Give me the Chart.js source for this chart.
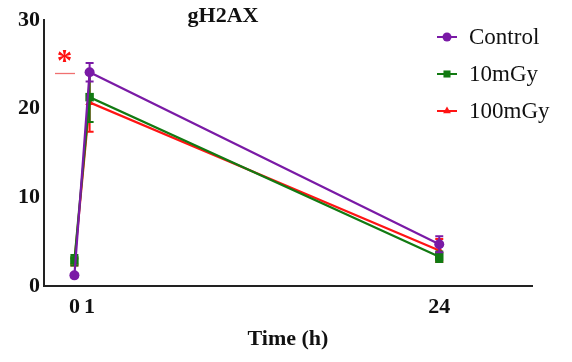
<!DOCTYPE html>
<html>
<head>
<meta charset="utf-8">
<script src="https://cdn.jsdelivr.net/npm/chart.js"></script>
<style>
  html, body { margin: 0; padding: 0; background: #ffffff; }
  #wrap { width: 572px; height: 362px; }
</style>
</head>
<body>
<div id="wrap"><canvas id="c" width="572" height="362"></canvas></div>
<script>
// gH2AX foci over time after irradiation (mean ± error)
const hours = [0, 1, 24];
const xTickValues = [0, 1, 24];
const yTickValues = [0, 10, 20, 30];

const seriesNames = ['Control', '10mGy', '100mGy'];
const controlMean = [1.2, 24.1, 4.7];
const controlErr  = [0.2, 1.05, 0.9];
const mGy10Mean   = [2.9, 21.3, 3.3];
const mGy10Err    = [0.6, 2.8, 0.6];
const mGy100Mean  = [2.7, 20.7, 4.0];
const mGy100Err   = [0.4, 3.3, 1.3];

const seriesColors = ['#7a1aa6', '#127a12', '#ff1414'];
const pointStyles  = ['circle', 'rect', 'triangle'];
const pointRadii   = [5, 6, 5];

const SERIF = '"Liberation Serif", "Times New Roman", serif';

function toPoints(means) {
  return hours.map((h, i) => ({ x: h, y: means[i] }));
}

const means = [controlMean, mGy10Mean, mGy100Mean];
const errs = [controlErr, mGy10Err, mGy100Err];

const datasets = seriesNames.map((name, k) => ({
  label: name,
  data: toPoints(means[k]),
  errors: errs[k],
  borderColor: seriesColors[k],
  backgroundColor: seriesColors[k],
  pointBackgroundColor: seriesColors[k],
  pointBorderColor: seriesColors[k],
  pointStyle: pointStyles[k],
  pointRadius: pointRadii[k],
  pointBorderWidth: 0,
  borderWidth: 2.2,
  tension: 0,
  fill: false
}));

// Vertical error bars with caps, drawn right after each dataset so layering is kept
const errorBars = {
  id: 'errorBars',
  afterDatasetDraw(chart, args) {
    const ds = chart.data.datasets[args.index];
    const meta = args.meta;
    const ys = chart.scales.y;
    const ctx = chart.ctx;
    ctx.save();
    ctx.strokeStyle = ds.borderColor;
    ctx.lineWidth = 2;
    meta.data.forEach((pt, i) => {
      const v = ds.data[i].y;
      const e = ds.errors[i];
      const yTop = ys.getPixelForValue(v + e);
      const yBot = ys.getPixelForValue(v - e);
      const x = pt.x;
      ctx.beginPath();
      ctx.moveTo(x, yTop); ctx.lineTo(x, yBot);
      ctx.moveTo(x - 4, yTop); ctx.lineTo(x + 4, yTop);
      ctx.moveTo(x - 4, yBot); ctx.lineTo(x + 4, yBot);
      ctx.stroke();
    });
    ctx.restore();
  }
};

// Title, significance mark and in-plot legend
const annotations = {
  id: 'annotations',
  afterDraw(chart) {
    const ctx = chart.ctx;
    ctx.save();
    // title
    ctx.fillStyle = '#111';
    ctx.font = 'bold 22px ' + SERIF;
    ctx.textAlign = 'center';
    ctx.textBaseline = 'middle';
    ctx.fillText('gH2AX', 223, 16);

    // significance asterisk with short bar
    ctx.fillStyle = '#ff1010';
    ctx.font = 'bold 31px ' + SERIF;
    ctx.textBaseline = 'alphabetic';
    ctx.fillText('*', 64.5, 71);
    ctx.strokeStyle = '#f07070';
    ctx.lineWidth = 1.3;
    ctx.beginPath();
    ctx.moveTo(55, 73.5); ctx.lineTo(75, 73.5);
    ctx.stroke();

    // legend
    const rowY = [37, 74, 111];
    chart.data.datasets.forEach((ds, k) => {
      const y = rowY[k];
      ctx.strokeStyle = ds.borderColor;
      ctx.lineWidth = 2;
      ctx.beginPath();
      ctx.moveTo(437, y); ctx.lineTo(457, y);
      ctx.stroke();
      ctx.fillStyle = ds.borderColor;
      Chart.helpers.drawPoint(ctx, {
        pointStyle: ds.pointStyle,
        radius: k === 1 ? 5 : 4.5,
        borderWidth: 0,
        rotation: 0
      }, 447, y);
      ctx.fillStyle = '#111';
      ctx.font = '23px ' + SERIF;
      ctx.textAlign = 'left';
      ctx.textBaseline = 'middle';
      ctx.fillText(ds.label, 469, y + 1);
    });
    ctx.restore();
  }
};

new Chart(document.getElementById('c'), {
  type: 'line',
  data: { datasets },
  plugins: [errorBars, annotations],
  options: {
    responsive: false,
    animation: false,
    devicePixelRatio: 1,
    layout: { padding: { left: 0, top: 20, right: 40, bottom: 0 } },
    plugins: {
      legend: { display: false },
      title: { display: false },
      tooltip: { enabled: false }
    },
    scales: {
      x: {
        type: 'linear',
        min: -2,
        max: 30.1,
        afterBuildTicks(scale) {
          scale.ticks = xTickValues.map(v => ({ value: v }));
        },
        afterFit(scale) { scale.height = 76; },
        grid: { display: false, drawTicks: false },
        border: { display: true, color: '#222', width: 2 },
        ticks: {
          color: '#111',
          padding: 8,
          maxRotation: 0,
          autoSkip: false,
          font: { family: SERIF, size: 22, weight: 'bold' }
        },
        title: {
          display: true,
          text: 'Time (h)',
          color: '#111',
          padding: { top: 0, bottom: 9 },
          font: { family: SERIF, size: 22, weight: 'bold' }
        }
      },
      y: {
        min: 0,
        max: 30,
        afterBuildTicks(scale) {
          scale.ticks = yTickValues.map(v => ({ value: v }));
        },
        afterFit(scale) { scale.width = 44; },
        grid: { display: false, drawTicks: false },
        border: { display: true, color: '#222', width: 2 },
        ticks: {
          color: '#111',
          padding: 4,
          font: { family: SERIF, size: 22, weight: 'bold' }
        }
      }
    }
  }
});
</script>
</body>
</html>
